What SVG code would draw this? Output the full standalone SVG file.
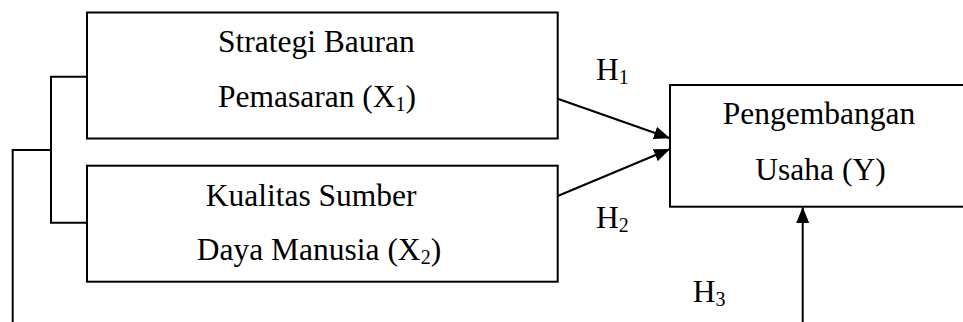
<svg xmlns="http://www.w3.org/2000/svg" width="963" height="322" viewBox="0 0 963 322">
<style>
.box{fill:#fff;stroke:#000;stroke-width:2}
.ln{fill:none;stroke:#000;stroke-width:2}
.t{font-family:"Liberation Serif","Times New Roman",serif;font-size:31.5px;fill:#000}
.s{font-size:20px}
</style>
<defs>
<marker id="ah" markerUnits="userSpaceOnUse" markerWidth="17" markerHeight="13" refX="16" refY="6.5" orient="auto">
<path d="M0,0 L16,6.5 L0,13 z" fill="#000"/>
</marker>
</defs>
<g id="connectors">
<path class="ln" d="M87,76.7 H51 V222.7 H87"/>
<path class="ln" d="M51,150 H12.7 V330"/>
<line class="ln" x1="557.7" y1="98.7" x2="670" y2="138.3" marker-end="url(#ah)"/>
<line class="ln" x1="557.7" y1="196" x2="670" y2="149" marker-end="url(#ah)"/>
<line class="ln" x1="802.7" y1="330" x2="802.7" y2="207" marker-end="url(#ah)"/>
<text class="t" x="596" y="80">H<tspan class="s" dy="4">1</tspan></text>
<text class="t" x="596" y="227.7">H<tspan class="s" dy="4">2</tspan></text>
<text class="t" x="692.7" y="301.7">H<tspan class="s" dy="4">3</tspan></text>
</g>
<g id="x1">
<rect class="box" x="87" y="12.5" width="470.7" height="126"/>
<text class="t" x="218" y="52.3">Strategi Bauran</text>
<text class="t" x="218" y="107.3">Pemasaran (X<tspan class="s" dy="4">1</tspan><tspan dy="-4">)</tspan></text>
</g>
<g id="x2">
<rect class="box" x="87" y="165.7" width="470.7" height="116"/>
<text class="t" x="205.7" y="205.7">Kualitas Sumber</text>
<text class="t" x="196.7" y="260">Daya Manusia (X<tspan class="s" dy="4">2</tspan><tspan dy="-4">)</tspan></text>
</g>
<g id="y">
<rect class="box" x="670" y="85" width="310" height="121.7"/>
<text class="t" x="722.7" y="124.3">Pengembangan</text>
<text class="t" x="755.3" y="180">Usaha (Y)</text>
</g>
</svg>
